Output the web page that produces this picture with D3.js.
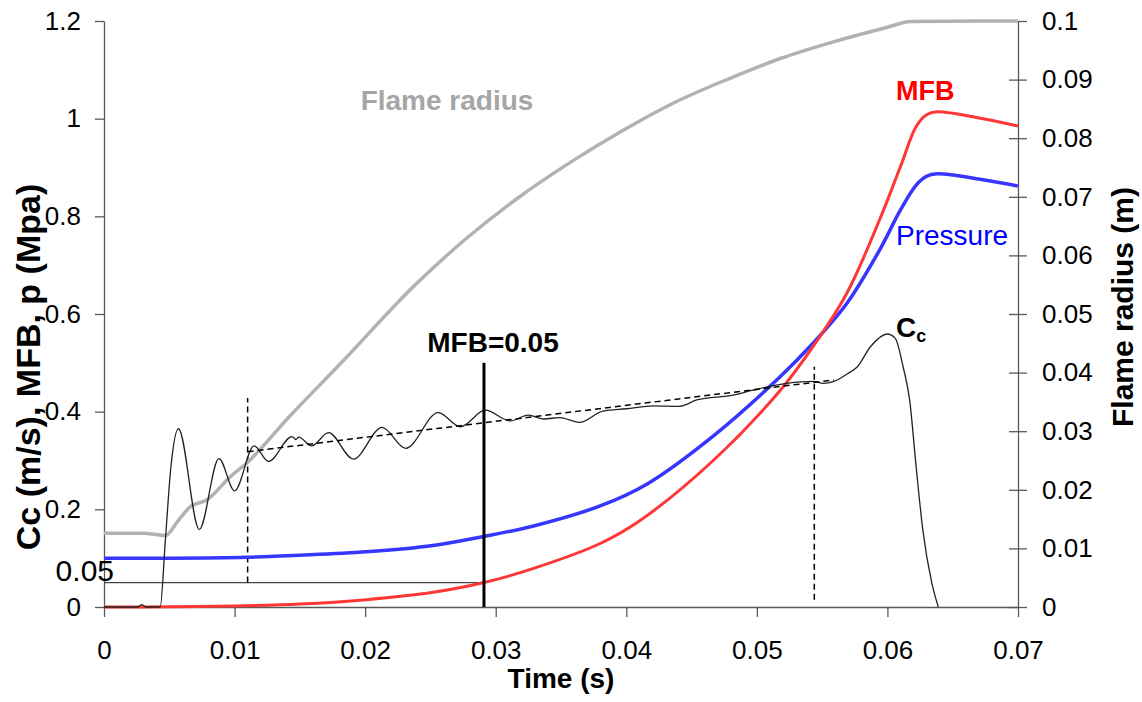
<!DOCTYPE html>
<html>
<head>
<meta charset="utf-8">
<script src="https://cdn.jsdelivr.net/npm/d3@7"></script>
<style>
  body { margin: 0; background: #fff; }
  text { font-family: "Liberation Sans", Arial, sans-serif; }
  .axis text { font-size: 26px; fill: #000; }
  .axis path, .axis line { stroke: #595959; stroke-width: 1.3; }
</style>
</head>
<body>
<div id="chart"></div>
<script>
// data
var flameT = [0, 0.003, 0.0047, 0.0057, 0.0066, 0.0079, 0.0097, 0.0109, 0.0142, 0.0181, 0.0238, 0.0277, 0.0317, 0.0358, 0.0398, 0.0437, 0.0478, 0.0518, 0.0558, 0.0598, 0.0618, 0.07];
var flameR = [0.0126, 0.0126, 0.0122, 0.0148, 0.0171, 0.0183, 0.0223, 0.0245, 0.0325, 0.0415, 0.0549, 0.0628, 0.0698, 0.0760, 0.0814, 0.0861, 0.0901, 0.0936, 0.0964, 0.0988, 0.0999, 0.1];

var mfbT = [0, 0.005, 0.0099, 0.015, 0.0201, 0.0252, 0.0291, 0.0329, 0.038, 0.041, 0.0467, 0.0518, 0.0543, 0.0569, 0.0594, 0.061, 0.0622, 0.063, 0.0638, 0.0671, 0.07];
var mfbV = [0, 0.0005, 0.002, 0.006, 0.015, 0.030, 0.05, 0.079, 0.130, 0.176, 0.301, 0.444, 0.533, 0.643, 0.793, 0.902, 0.984, 1.008, 1.014, 1.001, 0.985];

var presT = [0, 0.005, 0.0109, 0.015, 0.0201, 0.0252, 0.029, 0.0329, 0.038, 0.0416, 0.0467, 0.0518, 0.0543, 0.0569, 0.0594, 0.061, 0.0622, 0.063, 0.0638, 0.0671, 0.07];
var presV = [0.0997, 0.1, 0.102, 0.106, 0.113, 0.126, 0.144, 0.166, 0.207, 0.252, 0.351, 0.472, 0.540, 0.622, 0.731, 0.813, 0.864, 0.882, 0.887, 0.876, 0.862];

var ccT = [0, 0.0026, 0.0029, 0.0032, 0.0043, 0.0047, 0.0051, 0.0057, 0.0073, 0.0088, 0.0100, 0.0115, 0.0126, 0.0144, 0.0147, 0.0149, 0.0159, 0.0172, 0.0191, 0.0213, 0.0231, 0.0256, 0.0273, 0.0292, 0.0311, 0.0325, 0.0337, 0.0349, 0.0364, 0.0382, 0.0400, 0.0421, 0.0441, 0.0454, 0.0482, 0.0497, 0.0523, 0.0543, 0.0551, 0.0559, 0.0569, 0.0577, 0.0587, 0.0600, 0.0606, 0.0612, 0.0617, 0.0622, 0.0627, 0.0634, 0.0639];
var ccV = [0, 0, 0.005, 0, 0, 0.137, 0.28, 0.365, 0.159, 0.304, 0.238, 0.33, 0.298, 0.349, 0.343, 0.348, 0.33, 0.357, 0.303, 0.368, 0.325, 0.398, 0.369, 0.403, 0.381, 0.393, 0.385, 0.388, 0.378, 0.401, 0.406, 0.412, 0.411, 0.424, 0.434, 0.444, 0.458, 0.462, 0.458, 0.462, 0.477, 0.492, 0.533, 0.559, 0.55, 0.492, 0.424, 0.287, 0.16, 0.049, 0];

// dashed trend and markers
var trendT = [0.011, 0.0559];
var trendV = [0.318, 0.465];
var dashT = [0.011, 0.0544];
var dashLo = [0.05, 0.015];
var dashHi = [0.428, 0.492];
var mfbMarkT = 0.0291;
var mfbMarkTop = 0.5;

var leftTicks = [0, 0.2, 0.4, 0.6, 0.8, 1, 1.2];
var rightTicks = [0, 0.01, 0.02, 0.03, 0.04, 0.05, 0.06, 0.07, 0.08, 0.09, 0.1];
var timeTicks = [0, 0.01, 0.02, 0.03, 0.04, 0.05, 0.06, 0.07];

var svgWidth = 1142, svgHeight = 702;
var plotLeft = 104, plotRight = 1018, plotTop = 21, plotBottom = 607;

var svg = d3.select("#chart").append("svg")
  .attr("width", svgWidth)
  .attr("height", svgHeight);

var x = d3.scaleLinear().domain([0, 0.07]).range([plotLeft, plotRight]);
var yL = d3.scaleLinear().domain([0, 1.2]).range([plotBottom, plotTop]);
var yR = d3.scaleLinear().domain([0, 0.1]).range([plotBottom, plotTop]);

var fmt = function(d) { return String(+d.toFixed(3)); };

// axes
svg.append("g").attr("class", "axis")
  .attr("transform", `translate(${plotLeft},0)`)
  .call(d3.axisLeft(yL).tickValues(leftTicks).tickFormat(fmt).tickSize(9).tickSizeOuter(0).tickPadding(14));

var rAxis = svg.append("g").attr("class", "axis")
  .attr("transform", `translate(${plotRight},0)`)
  .call(d3.axisRight(yR).tickValues(rightTicks).tickFormat(fmt).tickSize(9).tickSizeOuter(0).tickPadding(15));
rAxis.selectAll(".tick line").attr("x1", -9);

svg.append("g").attr("class", "axis")
  .attr("transform", `translate(0,${plotBottom})`)
  .call(d3.axisBottom(x).tickValues(timeTicks).tickFormat(fmt).tickSize(10).tickSizeOuter(0).tickPadding(24));

function pts(ts, vs) { return ts.map(function(t, i) { return [t, vs[i]]; }); }

var lineL = d3.line().x(d => x(d[0])).y(d => yL(d[1])).curve(d3.curveMonotoneX);
var smoothL = d3.line().x(d => x(d[0])).y(d => yL(d[1])).curve(d3.curveCatmullRom.alpha(0.5));
var lineR = d3.line().x(d => x(d[0])).y(d => yR(d[1])).curve(d3.curveMonotoneX);

// 0.05 reference line
svg.append("line")
  .attr("x1", x(0)).attr("x2", x(mfbMarkT))
  .attr("y1", yL(0.05)).attr("y2", yL(0.05))
  .attr("stroke", "#444").attr("stroke-width", 1.2);

// vertical dashed lines
dashT.forEach(function(t, i) {
  svg.append("line")
    .attr("x1", x(t)).attr("x2", x(t))
    .attr("y1", yL(dashLo[i])).attr("y2", yL(dashHi[i]))
    .attr("stroke", "#000").attr("stroke-width", 1.5)
    .attr("stroke-dasharray", "6,4");
});

svg.append("path")
  .attr("d", lineR(pts(flameT, flameR)))
  .attr("fill", "none").attr("stroke", "#b2b2b2").attr("stroke-width", 3.5);

svg.append("path")
  .attr("d", smoothL(pts(presT, presV)))
  .attr("fill", "none").attr("stroke", "#3636ff").attr("stroke-width", 3.5);

svg.append("path")
  .attr("d", smoothL(pts(mfbT, mfbV)))
  .attr("fill", "none").attr("stroke", "#ff3636").attr("stroke-width", 3);

svg.append("path")
  .attr("d", lineL(pts(ccT, ccV)))
  .attr("fill", "none").attr("stroke", "#222").attr("stroke-width", 1.3);

svg.append("path")
  .attr("d", d3.line().x(d => x(d[0])).y(d => yL(d[1]))(pts(trendT, trendV)))
  .attr("fill", "none").attr("stroke", "#000").attr("stroke-width", 1.5)
  .attr("stroke-dasharray", "6,4");

// MFB = 0.05 marker
svg.append("line")
  .attr("x1", x(mfbMarkT)).attr("x2", x(mfbMarkT))
  .attr("y1", yL(0)).attr("y2", yL(mfbMarkTop))
  .attr("stroke", "#000").attr("stroke-width", 3);

// labels
svg.append("text").attr("x", 114).attr("y", 581)
  .attr("text-anchor", "end").style("font-size", "30px").text("0.05");

svg.append("text").attr("x", 447).attr("y", 110)
  .attr("text-anchor", "middle").style("font-size", "28px").style("font-weight", "bold")
  .attr("fill", "#a6a6a6").text("Flame radius");

svg.append("text").attr("x", 896).attr("y", 100)
  .style("font-size", "27px").style("font-weight", "bold")
  .attr("fill", "#ff0000").text("MFB");

svg.append("text").attr("x", 896).attr("y", 245)
  .style("font-size", "28px").attr("fill", "#0000ff").text("Pressure");

svg.append("text").attr("x", 493).attr("y", 352)
  .attr("text-anchor", "middle").style("font-size", "28px").style("font-weight", "bold")
  .text("MFB=0.05");

var cc = svg.append("text").attr("x", 896).attr("y", 337)
  .style("font-size", "28px").style("font-weight", "bold");
cc.append("tspan").text("C");
cc.append("tspan").attr("dy", 5).style("font-size", "18px").text("c");

// axis titles
svg.append("text").attr("x", 561).attr("y", 688)
  .attr("text-anchor", "middle").style("font-size", "28px").style("font-weight", "bold")
  .text("Time (s)");

svg.append("text")
  .attr("transform", "translate(40,367) rotate(-90)")
  .attr("text-anchor", "middle").style("font-size", "34px").style("font-weight", "bold")
  .text("Cc (m/s), MFB, p (Mpa)");

svg.append("text")
  .attr("transform", "translate(1133,307) rotate(-90)")
  .attr("text-anchor", "middle").style("font-size", "30px").style("font-weight", "bold")
  .text("Flame radius (m)");
</script>
</body>
</html>
